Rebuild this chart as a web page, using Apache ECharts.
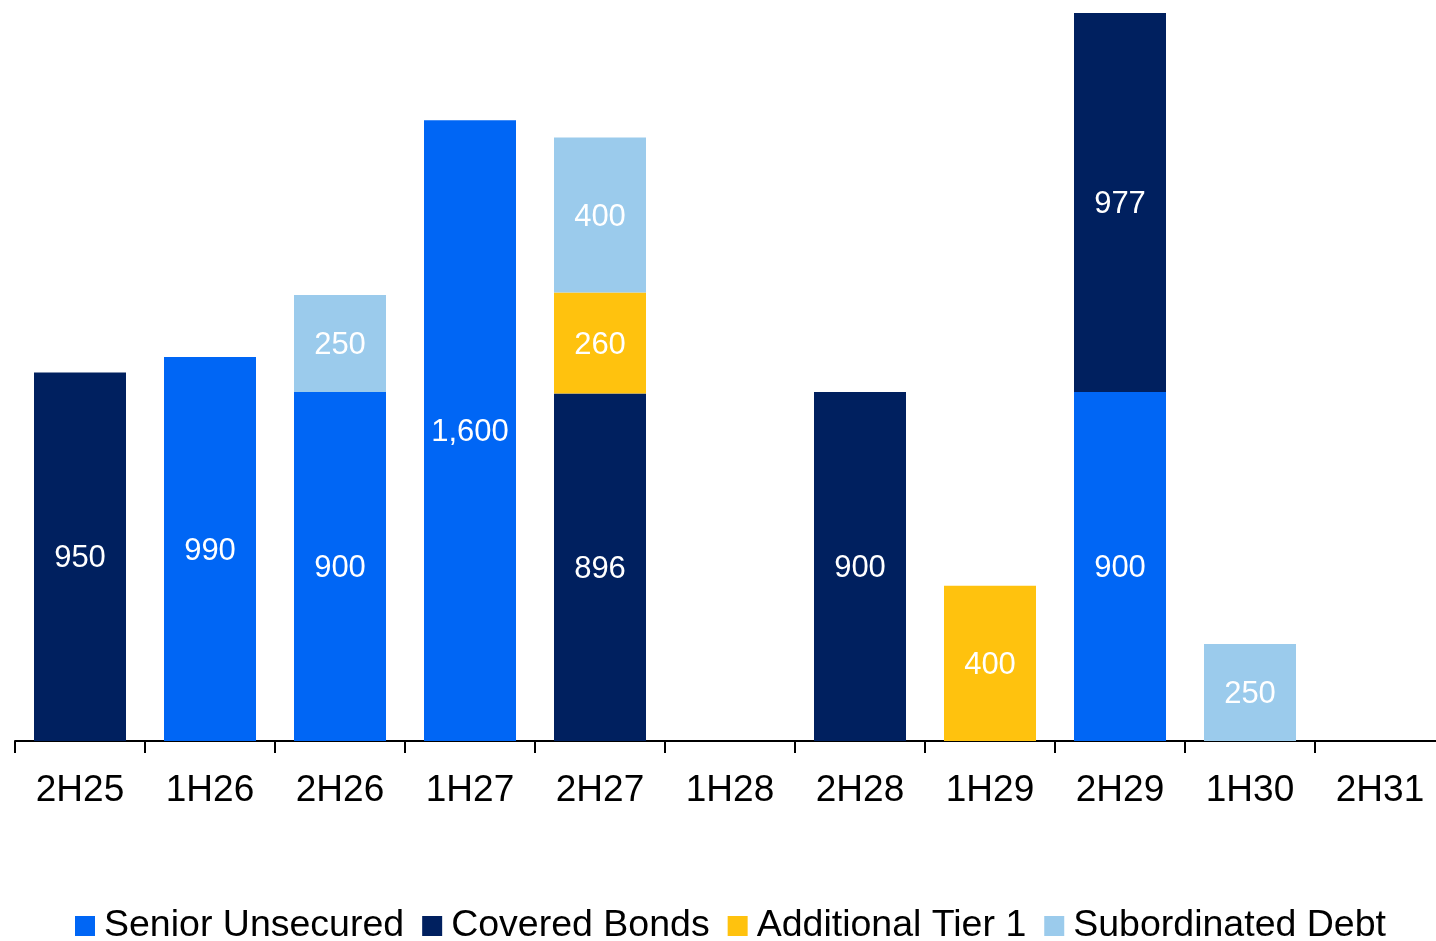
<!DOCTYPE html>
<html>
<head>
<meta charset="utf-8">
<script src="https://cdn.jsdelivr.net/npm/echarts@6/dist/echarts.min.js"></script>
<style>
  html, body { margin: 0; padding: 0; background: #fff; }
  #chart { width: 1436px; height: 941px; }
</style>
</head>
<body>
<div id="chart"></div>
<script>
// Issuance maturities by half-year
const categories = ['2H25', '1H26', '2H26', '1H27', '2H27', '1H28', '2H28', '1H29', '2H29', '1H30', '2H31'];
const seniorUnsecured   = [null, 990, 900, 1600, null, null, null, null, 900, null, null];
const coveredBonds      = [950, null, null, null, 896, null, 900, null, 977, null, null];
const additionalTier1   = [null, null, null, null, 260, null, null, 400, null, null, null];
const subordinatedDebt  = [null, null, 250, null, 400, null, null, null, null, 250, null];

const FONT = '"Liberation Sans", Arial, sans-serif';

const labelStyle = {
  show: true,
  position: 'inside',
  color: '#ffffff',
  fontSize: 31,
  fontFamily: FONT,
  offset: [0, 2],
  formatter: p => p.value == null ? '' : Number(p.value).toLocaleString('en-US')
};

function barSeries(name, data, color) {
  return {
    name: name,
    type: 'bar',
    stack: 'total',
    data: data,
    barWidth: 92,
    itemStyle: { color: color },
    label: labelStyle,
    emphasis: { disabled: true }
  };
}

const chart = echarts.init(document.getElementById('chart'), null, { renderer: 'canvas' });
chart.setOption({
  animation: false,
  backgroundColor: '#ffffff',
  grid: { left: 15, width: 1430, top: 4, bottom: 200, containLabel: false, outerBoundsMode: 'none' },
  legend: {
    top: 907,
    left: 75,
    padding: 0,
    itemWidth: 20,
    itemHeight: 20,
    itemGap: 18,
    icon: 'rect',
    textStyle: { fontSize: 37.5, color: '#000', fontFamily: FONT, padding: [0, 0, 0, 4] },
    data: ['Senior Unsecured', 'Covered Bonds', 'Additional Tier 1', 'Subordinated Debt']
  },
  xAxis: {
    type: 'category',
    data: categories,
    boundaryGap: true,
    axisLine: { show: true, lineStyle: { color: '#000', width: 2 } },
    axisTick: { show: true, length: 12, lineStyle: { color: '#000', width: 2 } },
    axisLabel: { color: '#000', fontSize: 37, fontFamily: FONT, margin: 31, interval: 0 }
  },
  yAxis: {
    type: 'value',
    min: 0,
    max: 1900,
    show: false,
    splitLine: { show: false }
  },
  series: [
    barSeries('Senior Unsecured', seniorUnsecured, '#0066F5'),
    barSeries('Covered Bonds', coveredBonds, '#00205F'),
    barSeries('Additional Tier 1', additionalTier1, '#FFC20E'),
    barSeries('Subordinated Debt', subordinatedDebt, '#9BCBEC')
  ]
});
</script>
</body>
</html>
